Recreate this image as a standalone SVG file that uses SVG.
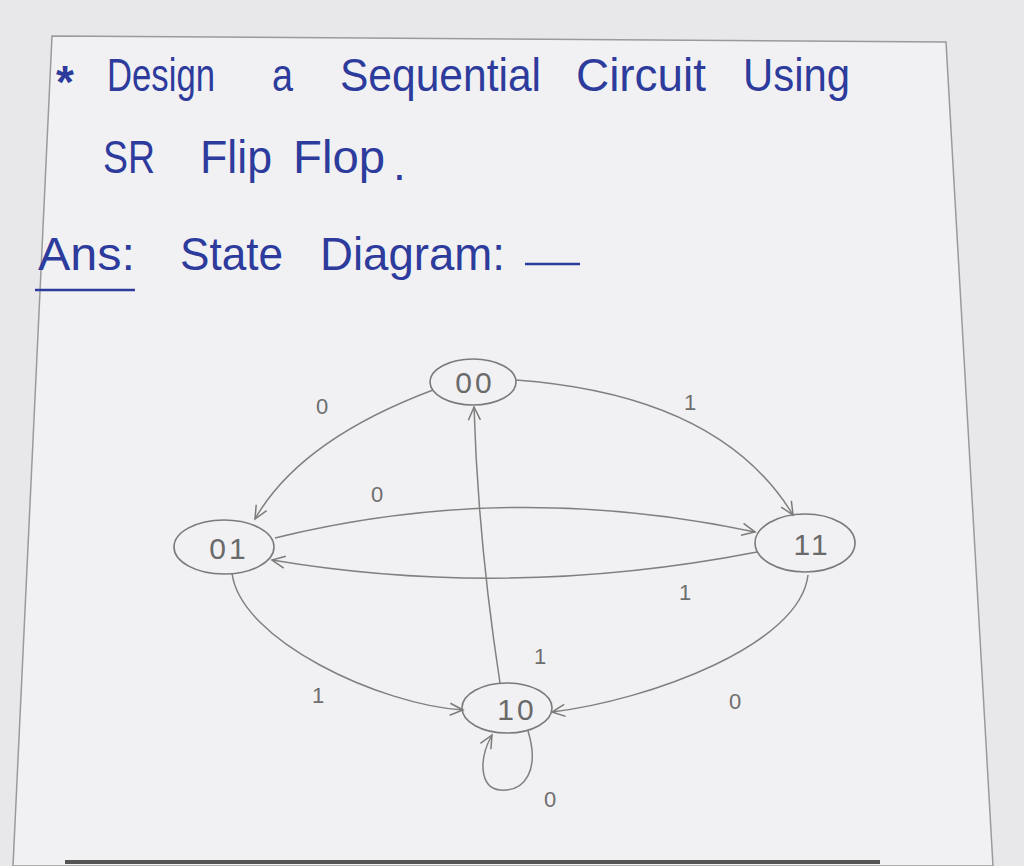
<svg xmlns="http://www.w3.org/2000/svg" width="1024" height="866" viewBox="0 0 1024 866">
<defs>
<style>
.ink{font-family:"Liberation Sans","DejaVu Sans",sans-serif;fill:#2d3b9c;font-size:46px}
.pn{font-family:"Liberation Sans","DejaVu Sans",sans-serif;fill:#6e6e6e;font-size:22px;text-anchor:middle}
.nt{font-family:"Liberation Sans","DejaVu Sans",sans-serif;fill:#6a6a6a;font-size:30px;text-anchor:middle;letter-spacing:3px}
.node{fill:none;stroke:#7a7a7a;stroke-width:1.6}
.edge{fill:none;stroke:#808080;stroke-width:1.5}
</style>
<marker id="ah" viewBox="-14 -8 16 16" refX="0" refY="0" markerWidth="16" markerHeight="16" markerUnits="userSpaceOnUse" orient="auto">
<path d="M-13,-6 L0,0 L-13,6" fill="none" stroke="#7a7a7a" stroke-width="1.5"/>
</marker>
</defs>
<rect width="1024" height="866" fill="#e8e8ea"/>
<polygon points="52,36 946,42 993,866 13,866" fill="#f1f1f3" stroke="#9a9a9a" stroke-width="1.5"/>
<line x1="65" y1="862" x2="880" y2="862" stroke="#555" stroke-width="4"/>

<g id="title">
<text class="ink" x="56" y="98" font-size="46" font-weight="bold">*</text>
<text class="ink" x="107" y="91" textLength="108" lengthAdjust="spacingAndGlyphs">Design</text>
<text class="ink" x="272" y="91" textLength="21" lengthAdjust="spacingAndGlyphs">a</text>
<text class="ink" x="340" y="91" textLength="201" lengthAdjust="spacingAndGlyphs">Sequential</text>
<text class="ink" x="576" y="91" textLength="130" lengthAdjust="spacingAndGlyphs">Circuit</text>
<text class="ink" x="743" y="91" textLength="107" lengthAdjust="spacingAndGlyphs">Using</text>
<text class="ink" x="103" y="173" textLength="52" lengthAdjust="spacingAndGlyphs">SR</text>
<text class="ink" x="200" y="173" textLength="72" lengthAdjust="spacingAndGlyphs">Flip</text>
<text class="ink" x="293" y="173" textLength="92" lengthAdjust="spacingAndGlyphs">Flop</text>
<text class="ink" x="393" y="180" font-size="20">.</text>
<text class="ink" x="38" y="270" textLength="97" lengthAdjust="spacingAndGlyphs">Ans:</text>
<line x1="35" y1="290" x2="135" y2="290" stroke="#2d3b9c" stroke-width="2.5"/>
<text class="ink" x="180" y="270" textLength="103" lengthAdjust="spacingAndGlyphs">State</text>
<text class="ink" x="320" y="270" textLength="185" lengthAdjust="spacingAndGlyphs">Diagram:</text>
<line x1="525" y1="264" x2="580" y2="264" stroke="#2d3b9c" stroke-width="2.5"/>
</g>

<g id="connectors">
<path class="edge" d="M433,390 Q300,440 255,519" marker-end="url(#ah)"/>
<path class="edge" d="M516,380 Q720,395 793,515" marker-end="url(#ah)"/>
<path class="edge" d="M275,538 Q510,480 755,532" marker-end="url(#ah)"/>
<path class="edge" d="M757,552 Q510,600 272,560" marker-end="url(#ah)"/>
<path class="edge" d="M232,573 C240,640 380,705 463,710" marker-end="url(#ah)"/>
<path class="edge" d="M808,575 C800,645 650,700 552,712" marker-end="url(#ah)"/>
<path class="edge" d="M500,683 Q478,540 474,407" stroke="#555" marker-end="url(#ah)"/>
<path class="edge" d="M528,731 C540,770 525,792 500,790 C480,788 478,760 492,735" stroke="#666" marker-end="url(#ah)"/>
<text class="pn" x="322" y="414">0</text>
<text class="pn" x="690" y="410">1</text>
<text class="pn" x="377" y="502">0</text>
<text class="pn" x="685" y="600">1</text>
<text class="pn" x="540" y="664">1</text>
<text class="pn" x="318" y="703">1</text>
<text class="pn" x="735" y="709">0</text>
<text class="pn" x="550" y="807">0</text>
</g>

<g id="node-00">
<ellipse class="node" cx="473" cy="382" rx="43" ry="23"/>
<text class="nt" x="475" y="393">00</text>
</g>
<g id="node-01">
<ellipse class="node" cx="224" cy="547" rx="50" ry="27"/>
<text class="nt" x="229" y="559">01</text>
</g>
<g id="node-11">
<ellipse class="node" cx="805" cy="543" rx="50" ry="29"/>
<text class="nt" x="812" y="555">11</text>
</g>
<g id="node-10">
<ellipse class="node" cx="507" cy="708" rx="45" ry="25"/>
<text class="nt" x="517" y="720">10</text>
</g>
</svg>
